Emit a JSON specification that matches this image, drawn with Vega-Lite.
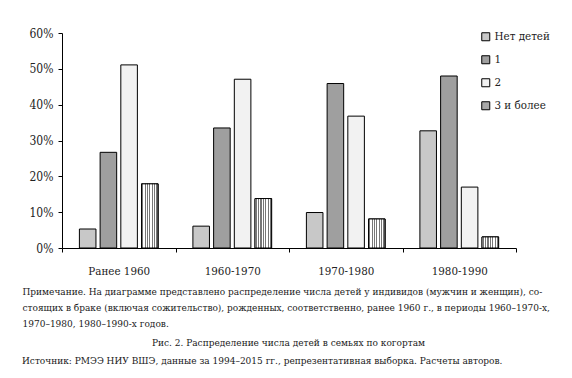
{
  "$schema": "https://vega.github.io/schema/vega-lite/v6.json",
  "width": 454,
  "height": 215,
  "autosize": "none",
  "padding": {"left": 62, "top": 33, "right": 56, "bottom": 130},
  "background": "white",
  "data": {
    "values": [
      {"cohort": "Ранее 1960", "cat": "Нет детей", "value": 0.053},
      {"cohort": "Ранее 1960", "cat": "1", "value": 0.267},
      {"cohort": "Ранее 1960", "cat": "2", "value": 0.511},
      {"cohort": "Ранее 1960", "cat": "3 и более", "value": 0.179},
      {"cohort": "1960-1970", "cat": "Нет детей", "value": 0.061},
      {"cohort": "1960-1970", "cat": "1", "value": 0.335},
      {"cohort": "1960-1970", "cat": "2", "value": 0.471},
      {"cohort": "1960-1970", "cat": "3 и более", "value": 0.138},
      {"cohort": "1970-1980", "cat": "Нет детей", "value": 0.099},
      {"cohort": "1970-1980", "cat": "1", "value": 0.459},
      {"cohort": "1970-1980", "cat": "2", "value": 0.368},
      {"cohort": "1970-1980", "cat": "3 и более", "value": 0.081},
      {"cohort": "1980-1990", "cat": "Нет детей", "value": 0.327},
      {"cohort": "1980-1990", "cat": "1", "value": 0.480},
      {"cohort": "1980-1990", "cat": "2", "value": 0.170},
      {"cohort": "1980-1990", "cat": "3 и более", "value": 0.031}
    ]
  },
  "title": {
    "text": "Источник: РМЭЭ НИУ ВШЭ, данные за 1994–2015 гг., репрезентативная выборка. Расчеты авторов.",
    "orient": "bottom",
    "anchor": "start",
    "frame": "bounds",
    "offset": 9,
    "font": "DejaVu Serif Condensed",
    "fontSize": 10,
    "fontWeight": "normal",
    "color": "#1a1a1a"
  },
  "encoding": {
    "x": {
      "field": "cohort",
      "type": "nominal",
      "sort": ["Ранее 1960", "1960-1970", "1970-1980", "1980-1990"],
      "scale": {"paddingInner": 0, "paddingOuter": 0},
      "axis": {
        "title": [
          "Примечание. На диаграмме представлено распределение числа детей у индивидов (мужчин и женщин), со-",
          "стоящих в браке (включая сожительство), рожденных, соответственно, ранее 1960 г., в периоды 1960–1970-х,",
          "1970–1980, 1980–1990-х годов."
        ],
        "titleX": -40,
        "titleY": 38,
        "titleAlign": "left",
        "titleBaseline": "top",
        "titleLineHeight": 16,
        "titleFont": "DejaVu Serif Condensed",
        "titleFontSize": 10,
        "titleFontWeight": "normal",
        "titleColor": "#1a1a1a",
        "labelAngle": 0,
        "labelPadding": 13,
        "tickBand": "extent",
        "tickSize": 4,
        "domainColor": "#000",
        "tickColor": "#000",
        "labelFont": "DejaVu Serif Condensed",
        "labelFontSize": 11.5,
        "labelColor": "#222"
      }
    },
    "xOffset": {
      "field": "cat",
      "type": "nominal",
      "sort": ["Нет детей", "1", "2", "3 и более"],
      "scale": {"domain": ["Нет детей", "1", "2", "3 и более"], "paddingInner": 0.2, "paddingOuter": 0.84}
    },
    "y": {
      "field": "value",
      "type": "quantitative",
      "scale": {"domain": [0, 0.6], "nice": false},
      "axis": {
        "values": [0, 0.1, 0.2, 0.3, 0.4, 0.5, 0.6],
        "format": ".0%",
        "grid": false,
        "title": "Рис. 2. Распределение числа детей в семьях по когортам",
        "titleAngle": 0,
        "titleX": 226,
        "titleY": 309,
        "titleAlign": "center",
        "titleBaseline": "middle",
        "titleFont": "DejaVu Serif Condensed",
        "titleFontSize": 10,
        "titleFontWeight": "normal",
        "titleColor": "#1a1a1a",
        "tickSize": 4,
        "labelPadding": 5,
        "domainColor": "#000",
        "tickColor": "#000",
        "labelFont": "DejaVu Serif Condensed",
        "labelFontSize": 12,
        "labelColor": "#222"
      }
    }
  },
  "layer": [
    {
      "mark": {"type": "bar", "stroke": "#000", "strokeWidth": 1},
      "encoding": {
        "color": {
          "field": "cat",
          "type": "nominal",
          "sort": ["Нет детей", "1", "2", "3 и более"],
          "scale": {
            "domain": ["Нет детей", "1", "2", "3 и более"],
            "range": ["#c8c8c8", "#9f9f9f", "#f2f2f2", "#a8a8a8"]
          },
          "legend": {
            "title": null,
            "orient": "none",
            "legendX": 418,
            "legendY": -2,
            "symbolType": "square",
            "symbolSize": 64,
            "symbolStrokeColor": "#000",
            "symbolStrokeWidth": 1,
            "symbolOpacity": 1,
            "rowPadding": 10,
            "labelOffset": 3,
            "labelFont": "DejaVu Serif Condensed",
            "labelFontSize": 11.5,
            "labelColor": "#222"
          }
        }
      }
    },
    {
      "transform": [{"filter": "datum.cat === '3 и более'"}],
      "mark": {
        "type": "bar",
        "stroke": "#000",
        "strokeWidth": 1,
        "fill": {
          "gradient": "linear",
          "x1": 0, "y1": 0, "x2": 1, "y2": 0,
          "stops": [
            {"offset": 0, "color": "#ffffff"},
            {"offset": 0.043, "color": "#ffffff"},
            {"offset": 0.043, "color": "#777777"},
            {"offset": 0.107, "color": "#777777"},
            {"offset": 0.107, "color": "#ffffff"},
            {"offset": 0.186, "color": "#ffffff"},
            {"offset": 0.186, "color": "#777777"},
            {"offset": 0.25, "color": "#777777"},
            {"offset": 0.25, "color": "#ffffff"},
            {"offset": 0.329, "color": "#ffffff"},
            {"offset": 0.329, "color": "#777777"},
            {"offset": 0.393, "color": "#777777"},
            {"offset": 0.393, "color": "#ffffff"},
            {"offset": 0.471, "color": "#ffffff"},
            {"offset": 0.471, "color": "#777777"},
            {"offset": 0.536, "color": "#777777"},
            {"offset": 0.536, "color": "#ffffff"},
            {"offset": 0.614, "color": "#ffffff"},
            {"offset": 0.614, "color": "#777777"},
            {"offset": 0.679, "color": "#777777"},
            {"offset": 0.679, "color": "#ffffff"},
            {"offset": 0.757, "color": "#ffffff"},
            {"offset": 0.757, "color": "#777777"},
            {"offset": 0.821, "color": "#777777"},
            {"offset": 0.821, "color": "#ffffff"},
            {"offset": 0.9, "color": "#ffffff"},
            {"offset": 0.9, "color": "#777777"},
            {"offset": 0.964, "color": "#777777"},
            {"offset": 0.964, "color": "#ffffff"},
            {"offset": 1, "color": "#ffffff"}
          ]
        }
      }
    }
  ],
  "config": {
    "view": {"stroke": null},
    "axis": {"domainWidth": 1, "tickWidth": 1}
  }
}
